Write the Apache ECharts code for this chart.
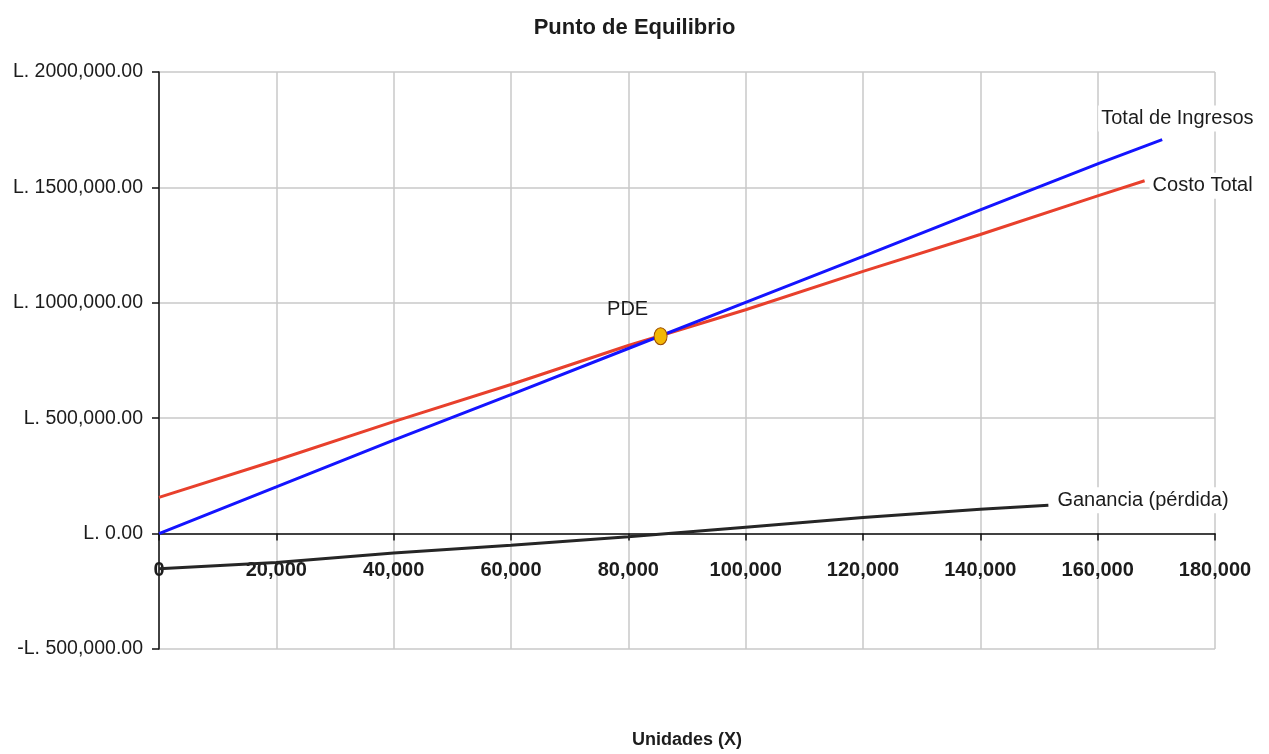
<!DOCTYPE html>
<html>
<head>
<meta charset="utf-8">
<title>Punto de Equilibrio</title>
<script src="https://cdn.jsdelivr.net/npm/echarts@6/dist/echarts.min.js"></script>
<style>
  html, body { margin: 0; padding: 0; background: #fff; }
  #chart { width: 1269px; height: 754px; }
</style>
</head>
<body>
<div id="chart"></div>
<script>
// Units sold (x) and amounts in Lempiras (y) for each line
const ingresosX = [0, 20000, 40000, 60000, 80000, 100000, 120000, 140000, 160000, 171000];
const ingresosY = [0, 202000, 405000, 602000, 802000, 1002000, 1201000, 1403000, 1602000, 1707000];

const costoX = [0, 20000, 40000, 60000, 80000, 100000, 120000, 140000, 160000, 168000];
const costoY = [157000, 318000, 485000, 646000, 815000, 970000, 1136000, 1296000, 1463000, 1529000];

const gananciaX = [0, 20000, 40000, 60000, 80000, 100000, 120000, 140000, 151600];
const gananciaY = [-152000, -125000, -84000, -50000, -14000, 28000, 70000, 106000, 123000];

// Break-even point
const pdeX = 85500;
const pdeY = 855000;

const seriesNames = ['Total de Ingresos', 'Costo Total', 'Ganancia (pérdida)'];
const yTicks = { min: -500000, max: 2000000, step: 500000 };
const xTicks = { min: 0, max: 180000, step: 20000 };

const FONT = '"Liberation Sans", Arial, sans-serif';
const TEXT = '#1c1c1c';

// Plot box (pixels inside the 1269x754 canvas)
const GRID = { left: 159, right: 54, top: 72, bottom: 105 };
const plotHeight = 754 - GRID.top - GRID.bottom;
// The unit axis sits on the y = 0 line: lift it from the plot bottom by the share of the range below zero
const zeroLift = plotHeight * (0 - yTicks.min) / (yTicks.max - yTicks.min);

const pairs = (xs, ys) => xs.map((x, i) => [x, ys[i]]);

// "L. 1500,000.00" style money labels
function lempiras(v) {
  const a = Math.abs(v);
  const miles = Math.floor(a / 1000);
  const resto = String(a % 1000).padStart(3, '0');
  const cuerpo = miles > 0 ? miles + ',' + resto + '.00' : '0.00';
  return (v < 0 ? '-L. ' : 'L. ') + cuerpo;
}

function endLabel(text, dx, dy) {
  return {
    show: true,
    formatter: text,
    distance: 5,
    offset: [dx, dy],
    fontFamily: FONT,
    fontSize: 20,
    color: TEXT,
    backgroundColor: '#fff',
    padding: [3, 3]
  };
}

const chart = echarts.init(document.getElementById('chart'), null, { renderer: 'canvas' });

chart.setOption({
  animation: false,
  backgroundColor: '#fff',
  title: {
    text: 'Punto de Equilibrio',
    left: 'center',
    top: 12,
    textStyle: { fontFamily: FONT, fontSize: 22, fontWeight: 'bold', color: TEXT }
  },
  grid: {
    left: GRID.left, right: GRID.right, top: GRID.top, bottom: GRID.bottom,
    containLabel: false,
    outerBoundsMode: 'none'
  },
  xAxis: {
    type: 'value',
    min: xTicks.min,
    max: xTicks.max,
    interval: xTicks.step,
    position: 'bottom',
    offset: -zeroLift,
    name: 'Unidades (X)',
    nameLocation: 'middle',
    nameGap: 197,
    nameTextStyle: { fontFamily: FONT, fontSize: 18, fontWeight: 'bold', color: TEXT },
    axisLine: { show: true, onZero: false, lineStyle: { color: '#111', width: 1.5 } },
    axisTick: { show: true, inside: false, length: 7, lineStyle: { color: '#111', width: 1.5 } },
    axisLabel: {
      margin: 27,
      fontFamily: FONT,
      fontSize: 20,
      fontWeight: 'bold',
      color: TEXT,
      formatter: v => v.toLocaleString('en-US')
    },
    splitLine: { show: true, lineStyle: { color: '#c8c8c8', width: 1.5 } }
  },
  yAxis: {
    type: 'value',
    min: yTicks.min,
    max: yTicks.max,
    interval: yTicks.step,
    axisLine: { show: true, onZero: false, lineStyle: { color: '#111', width: 1.5 } },
    axisTick: { show: true, inside: false, length: 7, lineStyle: { color: '#111', width: 1.5 } },
    axisLabel: {
      margin: 16,
      fontFamily: FONT,
      fontSize: 19.5,
      color: TEXT,
      formatter: lempiras
    },
    splitLine: { show: true, lineStyle: { color: '#c8c8c8', width: 1.5 } }
  },
  series: [
    {
      name: seriesNames[2],
      type: 'line',
      data: pairs(gananciaX, gananciaY),
      showSymbol: false,
      lineStyle: { color: '#262626', width: 3 },
      itemStyle: { color: '#262626' },
      endLabel: endLabel(seriesNames[2], 1, -5),
      z: 3
    },
    {
      name: seriesNames[1],
      type: 'line',
      data: pairs(costoX, costoY),
      showSymbol: false,
      lineStyle: { color: '#e8402c', width: 3 },
      itemStyle: { color: '#e8402c' },
      endLabel: endLabel(seriesNames[1], 0, 5),
      z: 3
    },
    {
      name: seriesNames[0],
      type: 'line',
      data: pairs(ingresosX, ingresosY),
      showSymbol: false,
      lineStyle: { color: '#1414ff', width: 3 },
      itemStyle: { color: '#1414ff' },
      endLabel: endLabel(seriesNames[0], -69, -21),
      z: 4
    },
    {
      name: 'PDE',
      type: 'scatter',
      data: [[pdeX, pdeY]],
      symbol: 'circle',
      symbolSize: [13, 17],
      itemStyle: { color: '#f2b705', borderColor: '#9a4a00', borderWidth: 1, opacity: 1 },
      label: {
        show: true,
        formatter: 'PDE',
        position: 'top',
        distance: 5,
        offset: [-33, -3],
        fontFamily: FONT,
        fontSize: 20,
        color: TEXT
      },
      z: 5
    }
  ]
});
</script>
</body>
</html>
